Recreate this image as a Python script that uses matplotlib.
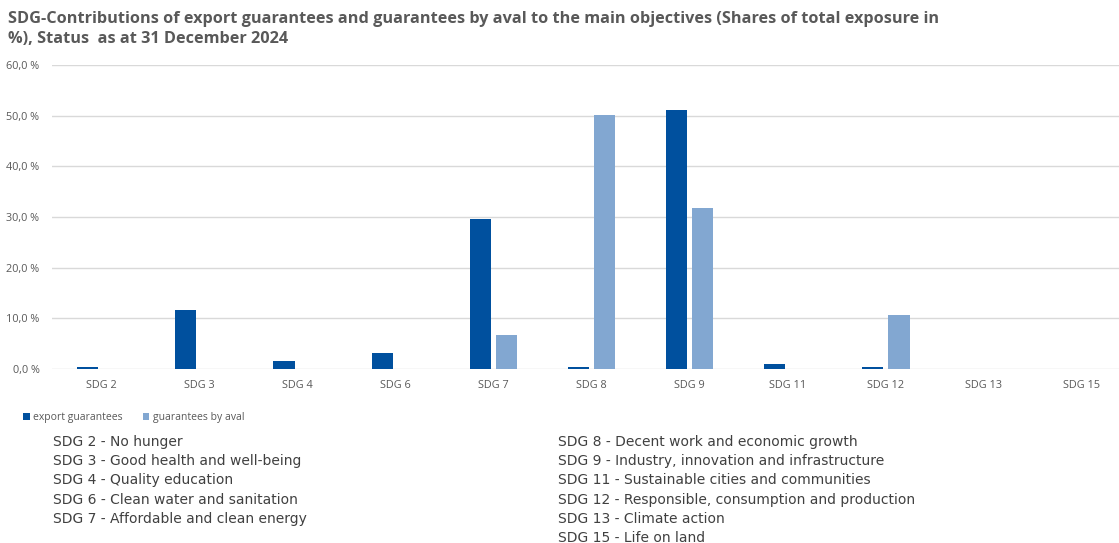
import numpy as np
import matplotlib.pyplot as plt
from matplotlib.ticker import FuncFormatter

# Data
categories = ["SDG 2", "SDG 3", "SDG 4", "SDG 6", "SDG 7", "SDG 8",
              "SDG 9", "SDG 11", "SDG 12", "SDG 13", "SDG 15"]
export_guarantees = [0.3, 11.6, 1.6, 3.2, 29.6, 0.3, 51.1, 0.9, 0.3, 0.0, 0.0]
guarantees_by_aval = [0.0, 0.0, 0.0, 0.0, 6.7, 50.1, 31.8, 0.0, 10.7, 0.0, 0.0]

notes_left = ["SDG 2 - No hunger",
              "SDG 3 - Good health and well-being",
              "SDG 4 - Quality education",
              "SDG 6 - Clean water and sanitation",
              "SDG 7 - Affordable and clean energy"]
notes_right = ["SDG 8 - Decent work and economic growth",
               "SDG 9 - Industry, innovation and infrastructure",
               "SDG 11 - Sustainable cities and communities",
               "SDG 12 - Responsible, consumption and production",
               "SDG 13 - Climate action",
               "SDG 15 - Life on land"]

dark = "#00509E"
light = "#82A7D1"
grey = "#595959"

plt.rcParams['font.family'] = ['Open Sans', 'DejaVu Sans']

W, H = 1119, 543
fig = plt.figure(figsize=(W / 100, H / 100), dpi=100)
# plot area runs slightly past the right edge of the image, as in the original
ax = fig.add_axes([52 / W, 1 - 369 / H, 1079 / W, 304 / H])

x = np.arange(len(categories))
w = 0.215
ax.bar(x - 0.135, export_guarantees, w, color=dark, label="export guarantees")
ax.bar(x + 0.135, guarantees_by_aval, w, color=light, label="guarantees by aval")

ax.set_xlim(-0.5, len(categories) - 0.5)
ax.set_ylim(0, 60)
ax.set_yticks(range(0, 61, 10))
ax.yaxis.set_major_formatter(FuncFormatter(lambda v, p: f"{v:.1f} %".replace(".", ",")))
ax.set_xticks(x)
ax.set_xticklabels(categories)
ax.grid(axis="y", color="#D9D9D9", linewidth=1)
ax.set_axisbelow(True)
for s in ax.spines.values():
    s.set_visible(False)
ax.tick_params(length=0, labelsize=7.8, colors=grey, pad=8)
ax.tick_params(axis="y", pad=9)

fig.legend(loc="upper left", bbox_to_anchor=(14 / W, 1 - 403 / H), ncol=2,
           frameon=False, fontsize=7.5, labelcolor=grey, handlelength=0.6,
           handleheight=0.6, handletextpad=0.3, columnspacing=2.0)

fig.text(8 / W, 1 - 11 / H,
         "SDG-Contributions of export guarantees and guarantees by aval to the main objectives (Shares of total exposure in\n%), Status  as at 31 December 2024",
         fontsize=11.7, fontweight="bold", color=grey, va="top", linespacing=1.3)

for i, t in enumerate(notes_left):
    fig.text(53 / W, 1 - (442 + i * 19.2) / H, t, fontsize=10, color="#404040",
             va="center", family=['Liberation Sans Narrow', 'DejaVu Sans'])
for i, t in enumerate(notes_right):
    fig.text(558 / W, 1 - (442 + i * 19.2) / H, t, fontsize=10, color="#404040",
             va="center", family=['Liberation Sans Narrow', 'DejaVu Sans'])

fig.savefig("out.png", dpi=100)
